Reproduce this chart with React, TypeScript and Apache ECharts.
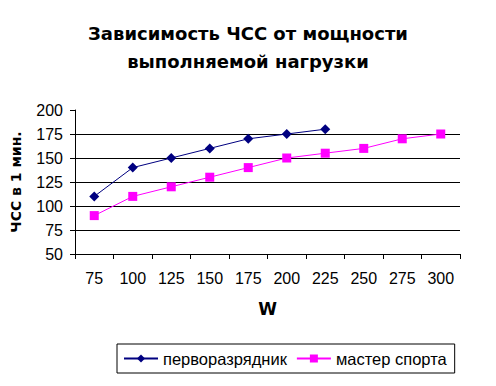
import React, { useEffect, useRef } from "react";
import * as echarts from "echarts";

const categories = ["75", "100", "125", "150", "175", "200", "225", "250", "275", "300"];
const firstRank = [110, 140, 150, 160, 170, 175, 180];
const masterSport = [90, 110, 120, 130, 140, 150, 155, 160, 170, 175];
const seriesNames = ["перворазрядник", "мастер спорта"];

export default function App() {
  const ref = useRef<HTMLDivElement>(null);
  useEffect(() => {
    const chart = echarts.init(ref.current!, null, { renderer: "svg" });
    const font = "Arial, 'Liberation Sans', sans-serif";
    const bold = "'DejaVu Sans', Arial, sans-serif";
    chart.setOption({
      animation: false,
      backgroundColor: "#fff",
      textStyle: { fontFamily: font, color: "#000" },
      title: {
        text: "Зависимость ЧСС от мощности\nвыполняемой нагрузки",
        left: "center",
        top: 14,
        textStyle: { fontSize: 18, fontWeight: "bold", lineHeight: 28, color: "#000", fontFamily: bold },
      },
      grid: { left: 75, right: 36, top: 110, bottom: 132, containLabel: false },
      legend: {
        left: 117,
        top: 344,
        borderColor: "#000",
        borderWidth: 1,
        padding: [6, 8, 6, 6],
        itemWidth: 34,
        itemHeight: 10,
        itemGap: 9,
        textStyle: { fontSize: 16.5, color: "#000", fontFamily: font },
        data: seriesNames,
      },
      xAxis: {
        type: "category",
        data: categories,
        boundaryGap: true,
        name: "W",
        nameLocation: "middle",
        nameGap: 46,
        nameTextStyle: { fontSize: 17, fontWeight: "bold", color: "#000", fontFamily: bold },
        axisLine: { lineStyle: { color: "#000", width: 1 } },
        axisTick: { show: true, inside: false, length: 5, lineStyle: { color: "#000" } },
        axisLabel: { fontSize: 16, color: "#000", margin: 16 },
        splitLine: { show: false },
      },
      yAxis: {
        type: "value",
        min: 50,
        max: 200,
        interval: 25,
        name: "ЧСС в 1 мин.",
        nameLocation: "middle",
        nameRotate: 90,
        nameGap: 52,
        nameTextStyle: { fontSize: 14, fontWeight: "bold", color: "#000", fontFamily: bold },
        axisLine: { show: true, lineStyle: { color: "#000", width: 1 } },
        axisTick: { show: true, length: 5, lineStyle: { color: "#000" } },
        axisLabel: { fontSize: 16, color: "#000", margin: 12 },
        splitLine: {
          show: true,
          lineStyle: { color: ["#000", "#000", "#000", "#000", "#000", "#000", "transparent"], width: 1 },
        },
      },
      series: [
        {
          name: seriesNames[0],
          type: "line",
          data: firstRank,
          symbol: "diamond",
          symbolSize: 10,
          itemStyle: { color: "#000080" },
          lineStyle: { color: "#000080", width: 1 },
        },
        {
          name: seriesNames[1],
          type: "line",
          data: masterSport,
          symbol: "rect",
          symbolSize: 9,
          itemStyle: { color: "#FF00FF" },
          lineStyle: { color: "#FF00FF", width: 1 },
        },
      ],
    });
    return () => chart.dispose();
  }, []);
  return <div ref={ref} style={{ position: "fixed", left: 0, top: 0, width: 496, height: 386 }} />;
}
